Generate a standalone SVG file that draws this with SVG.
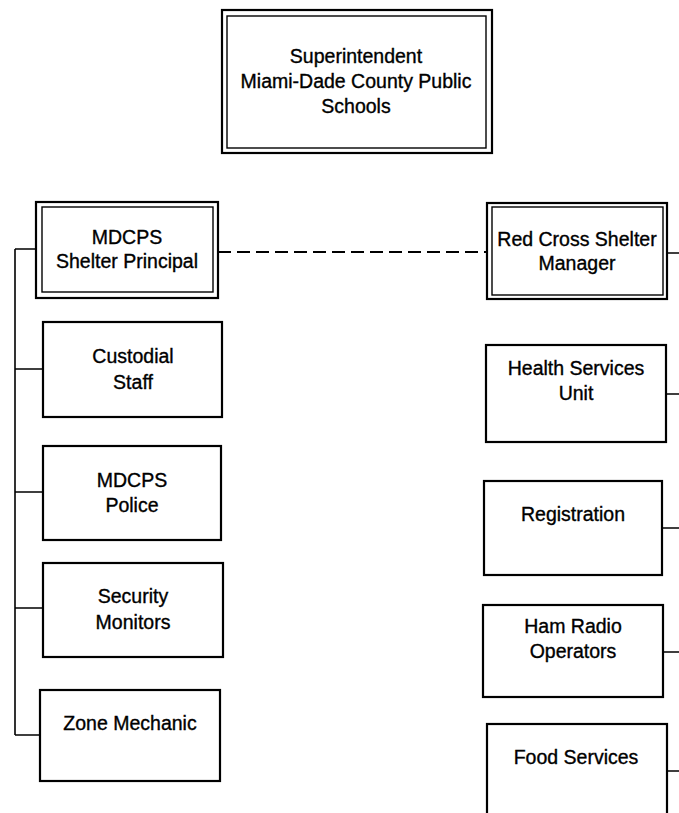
<svg xmlns="http://www.w3.org/2000/svg" width="679" height="813" viewBox="0 0 679 813">
<style>
.bx{fill:#fff;stroke:#000;stroke-width:2.2}
.in{fill:none;stroke:#000;stroke-width:1.4}
.ln{fill:none;stroke:#000;stroke-width:1.6}
.dash{fill:none;stroke:#000;stroke-width:1.8;stroke-dasharray:13 6}
text{font-family:"Liberation Sans",Arial,sans-serif;font-size:19.5px;fill:#000;stroke:#000;stroke-width:0.35;text-anchor:middle}
</style>
<rect width="679" height="813" fill="#fff"/>
<g id="connectors">
<path class="ln" d="M15 249 V735 M15 249 H36 M15 369 H43 M15 492 H43 M15 608 H43 M15 735 H40"/>
<path class="dash" d="M218 252 H487"/>
<path class="ln" d="M667 253 H679 M666 394 H679 M662 528 H679 M663 652 H679 M667 771 H679"/>
</g>
<g id="superintendent">
<rect class="bx" x="222" y="10" width="270" height="143"/>
<rect class="in" x="227" y="16" width="259" height="132"/>
<text x="356" y="63">Superintendent</text>
<text x="356" y="88">Miami-Dade County Public</text>
<text x="356" y="113">Schools</text>
</g>
<g id="principal">
<rect class="bx" x="36" y="202" width="182" height="96"/>
<rect class="in" x="42" y="207" width="171" height="85"/>
<text x="127" y="244">MDCPS</text>
<text x="127" y="268">Shelter Principal</text>
</g>
<g id="redcross">
<rect class="bx" x="487" y="203" width="180" height="96"/>
<rect class="in" x="492" y="207" width="171" height="88"/>
<text x="577" y="246">Red Cross Shelter</text>
<text x="577" y="270">Manager</text>
</g>
<g id="custodial">
<rect class="bx" x="43" y="322" width="179" height="95"/>
<text x="133" y="363">Custodial</text>
<text x="133" y="389">Staff</text>
</g>
<g id="police">
<rect class="bx" x="43" y="446" width="178" height="94"/>
<text x="132" y="487">MDCPS</text>
<text x="132" y="512">Police</text>
</g>
<g id="security">
<rect class="bx" x="43" y="563" width="180" height="94"/>
<text x="133" y="603">Security</text>
<text x="133" y="629">Monitors</text>
</g>
<g id="zone">
<rect class="bx" x="40" y="690" width="180" height="91"/>
<text x="130" y="730">Zone Mechanic</text>
</g>
<g id="health">
<rect class="bx" x="486" y="345" width="180" height="97"/>
<text x="576" y="375">Health Services</text>
<text x="576" y="400">Unit</text>
</g>
<g id="registration">
<rect class="bx" x="484" y="481" width="178" height="94"/>
<text x="573" y="521">Registration</text>
</g>
<g id="hamradio">
<rect class="bx" x="483" y="605" width="180" height="92"/>
<text x="573" y="633">Ham Radio</text>
<text x="573" y="658">Operators</text>
</g>
<g id="food">
<rect class="bx" x="487" y="724" width="180" height="110"/>
<text x="576" y="764">Food Services</text>
</g>
</svg>
